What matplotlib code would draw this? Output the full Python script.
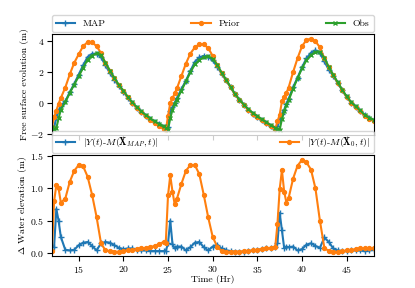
import numpy as np
import matplotlib
matplotlib.use("Agg")
import matplotlib.pyplot as plt

plt.rcParams['font.family'] = 'serif'
plt.rcParams['font.serif'] = ['cmr10']
plt.rcParams['mathtext.fontset'] = 'cm'
plt.rcParams['axes.formatter.use_mathtext'] = True
plt.rcParams['font.size'] = 7

# time (hours)
t = [12.0, 12.25, 12.5, 12.75, 13.0, 13.5, 14.0, 14.5, 15.0, 15.5, 16.0, 16.5,
     17.0, 17.5, 18.0, 18.5, 19.0, 19.5, 20.0, 20.5, 21.0, 21.5, 22.0, 22.5,
     23.0, 23.5, 24.0, 24.5, 24.75, 25.0, 25.25, 25.5, 25.75, 26.0, 26.5, 27.0,
     27.5, 28.0, 28.5, 29.0, 29.5, 30.0, 30.5, 31.0, 31.5, 32.0, 32.5, 33.0,
     33.5, 34.0, 34.5, 35.0, 35.5, 36.0, 36.5, 37.0, 37.25, 37.5, 37.75, 38.0,
     38.25, 38.5, 39.0, 39.5, 40.0, 40.5, 41.0, 41.5, 42.0, 42.5, 43.0, 43.5,
     44.0, 44.5, 45.0, 45.5, 46.0, 46.5, 47.0, 47.5, 48.0]

obs = [-1.55, -1.68, -1.62, -1.0, -0.43, 0.05, 0.65, 1.19, 1.72, 2.28, 2.81, 3.07,
       3.22, 3.12, 2.6, 2.1, 1.62, 1.17, 0.8, 0.4, 0.05, -0.27, -0.54, -0.78,
       -1.0, -1.19, -1.36, -1.52, -1.62, -1.72, -1.0, -0.43, -0.05, 0.22, 0.8, 1.4,
       1.98, 2.5, 2.78, 2.96, 3.03, 2.86, 2.48, 1.97, 1.51, 1.05, 0.58, 0.22,
       -0.1, -0.42, -0.65, -0.86, -1.07, -1.25, -1.44, -1.6, -1.67, -1.73, -1.05, -0.55,
       -0.15, 0.17, 0.92, 1.6, 2.25, 2.77, 3.1, 3.3, 3.32, 2.93, 2.32, 1.82,
       1.33, 0.86, 0.42, 0.06, -0.22, -0.48, -0.76, -0.95, -1.08]

prior = [-1.58, -0.9, -0.5, -0.05, 0.32, 1.0, 1.85, 2.6, 3.15, 3.68, 3.94, 3.93,
         3.68, 3.24, 2.56, 2.07, 1.59, 1.14, 0.77, 0.36, 0.0, -0.33, -0.61, -0.86,
         -1.09, -1.3, -1.5, -1.69, -1.78, -0.85, 0.0, 0.3, 0.62, 0.95, 1.75, 2.55,
         3.2, 3.6, 3.8, 3.8, 3.55, 3.05, 2.45, 1.92, 1.48, 1.02, 0.55, 0.19,
         -0.13, -0.45, -0.69, -0.91, -1.13, -1.32, -1.52, -1.69, -1.2, -0.75, 0.1, 0.38,
         0.65, 1.0, 2.0, 2.9, 3.68, 4.08, 4.17, 4.0, 3.6, 2.88, 2.3, 1.79,
         1.3, 0.83, 0.38, 0.01, -0.28, -0.55, -0.83, -1.02, -1.15]

map_est = [-1.65, -1.58, -0.94, -0.5, -0.18, 0.1, 0.69, 1.24, 1.84, 2.44, 2.98, 3.18,
           3.2, 2.97, 2.43, 1.94, 1.5, 1.09, 0.74, 0.33, -0.02, -0.32, -0.58, -0.82,
           -1.03, -1.22, -1.39, -1.55, -1.65, -1.57, -0.5, -0.29, 0.02, 0.32, 0.9, 1.44,
           2.07, 2.66, 2.95, 3.05, 2.99, 2.76, 2.35, 1.9, 1.47, 1.02, 0.56, 0.2,
           -0.12, -0.45, -0.69, -0.91, -1.13, -1.32, -1.52, -1.69, -1.52, -1.11, -0.7, -0.47,
           -0.05, 0.26, 1.02, 1.64, 2.31, 2.9, 3.25, 3.41, 3.24, 2.69, 2.15, 1.75,
           1.29, 0.83, 0.39, 0.02, -0.26, -0.52, -0.79, -0.99, -1.13]

# absolute differences
err_map = [0.1, 0.1, 0.68, 0.5, 0.25, 0.05, 0.04, 0.05, 0.12, 0.16, 0.17, 0.11,
           0.04, 0.15, 0.17, 0.16, 0.12, 0.08, 0.06, 0.07, 0.07, 0.05, 0.04, 0.04,
           0.03, 0.03, 0.03, 0.03, 0.03, 0.15, 0.5, 0.14, 0.07, 0.1, 0.1, 0.04,
           0.09, 0.16, 0.17, 0.09, 0.04, 0.1, 0.13, 0.07, 0.04, 0.03, 0.02, 0.02,
           0.02, 0.03, 0.04, 0.05, 0.06, 0.07, 0.08, 0.09, 0.15, 0.62, 0.35, 0.08,
           0.1, 0.09, 0.1, 0.04, 0.06, 0.13, 0.15, 0.11, 0.08, 0.24, 0.17, 0.07,
           0.04, 0.03, 0.03, 0.04, 0.04, 0.04, 0.03, 0.04, 0.05]

err_prior = [0.03, 0.8, 1.05, 1.0, 0.78, 0.84, 1.1, 1.27, 1.36, 1.34, 1.18, 0.9,
             0.56, 0.15, 0.04, 0.03, 0.02, 0.02, 0.03, 0.04, 0.05, 0.06, 0.07, 0.08,
             0.09, 0.11, 0.14, 0.17, 0.16, 0.89, 1.2, 0.95, 0.75, 0.84, 1.07, 1.27,
             1.36, 1.36, 1.22, 0.9, 0.55, 0.25, 0.1, 0.03, 0.02, 0.02, 0.02, 0.02,
             0.03, 0.03, 0.04, 0.05, 0.06, 0.07, 0.08, 0.09, 0.45, 0.99, 1.28, 0.95,
             0.78, 0.85, 1.15, 1.35, 1.44, 1.4, 1.29, 1.0, 0.5, 0.08, 0.03, 0.02,
             0.02, 0.03, 0.04, 0.05, 0.06, 0.07, 0.07, 0.07, 0.07]

fig, (ax1, ax2) = plt.subplots(2, 1, figsize=(4.15, 2.88), dpi=100, sharex=True)
fig.subplots_adjust(left=0.125, right=0.9, bottom=0.11, top=0.882, hspace=0.2)

ax1.plot(t, map_est, color='C0', marker='+', markersize=5, label='MAP')
ax1.plot(t, prior, color='C1', marker='o', markersize=2.8, label='Prior')
ax1.plot(t, obs, color='C2', marker='x', markersize=3.5, label='Obs')
ax1.set_ylabel('Free surface evolution (m)', labelpad=1)
ax1.legend(bbox_to_anchor=(0., 1.02, 1., .102), loc='lower left', ncol=3,
           mode='expand', borderaxespad=0.)
ax1.tick_params(labelbottom=False, pad=2)

ax2.plot(t, err_map, color='C0', marker='+', markersize=5,
         label=r'$|Y(t)$-$M(\mathbf{X}_{MAP},t)|$')
ax2.plot(t, err_prior, color='C1', marker='o', markersize=2.8,
         label=r'$|Y(t)$-$M(\mathbf{X}_0,t)|$')
ax2.set_ylabel(r'$\Delta$ Water elevation (m)', labelpad=1)
ax2.set_xlabel('Time (Hr)', labelpad=0)
ax2.tick_params(pad=2)
ax2.legend(bbox_to_anchor=(0., 1.02, 1., .102), loc='lower left', ncol=2,
           mode='expand', borderaxespad=0.)
ax2.set_xlim(12, 48)
ax2.set_xticks([15, 20, 25, 30, 35, 40, 45])
ax2.set_yticks([0.0, 0.5, 1.0, 1.5])

fig.savefig('out.png', dpi=100)
